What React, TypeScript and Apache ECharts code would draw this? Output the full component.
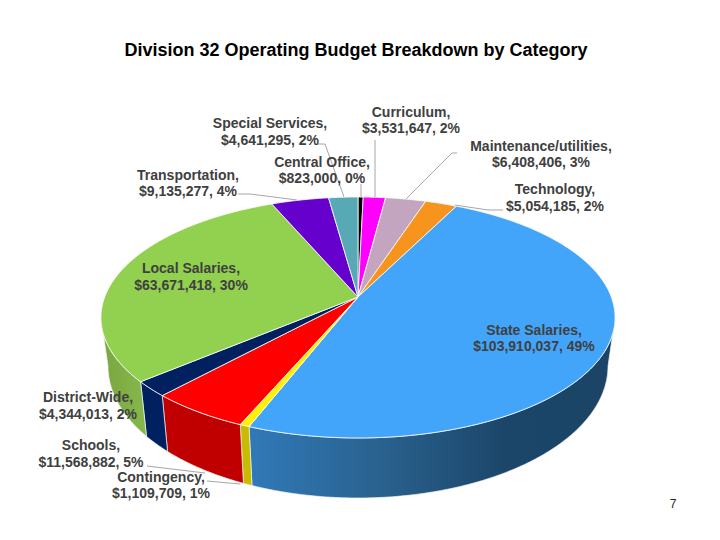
import React, { useEffect, useRef } from "react";
import * as echarts from "echarts";

const categories = ["Central Office", "Curriculum", "Maintenance/utilities", "Technology", "State Salaries", "Contingency", "Schools", "District-Wide", "Local Salaries", "Transportation", "Special Services"];
const values = [823000, 3531647, 6408406, 5054185, 103910037, 1109709, 11568882, 4344013, 63671418, 9135277, 4641295];
const topColors = ["#000000", "#ff00ff", "#c3a5c0", "#f7941d", "#42a5fa", "#fff200", "#ff0000", "#002060", "#92d050", "#6600cc", "#56a9b5"];
const wallColors = ["#000000", "#bf00bf", "#927c90", "#b96f16", "#2f75b5", "#c9bc00", "#c00000", "#002060", "#7dae45", "#4d0099", "#407f88"];

const labelLayout: [number, number][] = [
  [322, 170], [411, 120], [541, 154], [555, 197.5], [534, 338], [161, 485], [91, 453.5], [88, 405.5], [191, 276.5], [188, 183], [270, 131.5],
];
const leaderLines: number[][][] = [
  [[361, 184], [361, 198]],
  [[375, 140], [375, 197]],
  [[457, 153], [452, 153], [406, 199]],
  [[503, 210], [488, 210], [455, 205]],
  [],
  [[207, 481], [240, 484]],
  [[147, 466], [205, 473]],
  [],
  [],
  [[238, 194], [250, 194], [297, 200]],
  [[318, 144], [325, 144], [344, 197]],
];

const total = values.reduce((a, b) => a + b, 0);
const RAD = Math.PI / 180;

// Perspective view of a round disc: top face and bottom face ellipses.
const cx = 358, apexY = 297, k = 0.17, h = 117, w = 253.3;
const topE = { x: 358, y: 317.5, rx: 257, ry: 120.5 };
const botE = { x: 358, y: 366, rx: 250, ry: 132 };

function topPoint(theta: number) {
  const u = Math.sin(theta * RAD), v = -Math.cos(theta * RAD);
  const d = 1 - k * v;
  return [cx + (w * u) / d, apexY + (h * v) / d];
}
function phiOf(p: number[]) {
  return Math.atan2((p[0] - topE.x) / topE.rx, (topE.y - p[1]) / topE.ry);
}
function botPoint(phi: number) {
  return [botE.x + botE.rx * Math.sin(phi), botE.y - botE.ry * Math.cos(phi)];
}

const renderItem = (params: any) => {
  const i = params.dataIndex;
  let before = 0;
  for (let j = 0; j < i; j++) before += values[j];
  const a0 = (before / total) * 360;
  const a1 = ((before + values[i]) / total) * 360;
  const steps = Math.max(2, Math.ceil((a1 - a0) * 2));
  const arc: number[][] = [];
  const wallTop: number[][] = [];
  const wallBot: number[][] = [];
  for (let s = 0; s <= steps; s++) {
    const p = topPoint(a0 + ((a1 - a0) * s) / steps);
    arc.push(p);
    const phi = phiOf(p);
    if (Math.cos(phi) <= 0) {
      wallTop.push(p);
      wallBot.push(botPoint(phi));
    }
  }
  const children: any[] = [];
  if (wallTop.length > 1) {
    let fill: any = wallColors[i];
    if (categories[i] === "State Salaries") {
      fill = new echarts.graphic.LinearGradient(250, 0, 615, 0, [
        { offset: 0, color: "#3079b8" },
        { offset: 0.35, color: "#2a628f" },
        { offset: 0.7, color: "#1b4669" },
        { offset: 1, color: "#1b4466" },
      ], true);
    } else if (categories[i] === "Local Salaries") {
      fill = new echarts.graphic.LinearGradient(102, 0, 146, 0, [
        { offset: 0, color: "#7aa63f" },
        { offset: 1, color: "#86b84c" },
      ], true);
    }
    children.push({
      type: "polygon",
      z2: 1,
      shape: { points: wallTop.concat(wallBot.slice().reverse()) },
      style: { fill, stroke: "#f2f2f2", lineWidth: 0.7 },
    });
  }
  children.push({
    type: "polygon",
    z2: 2,
    shape: { points: [[cx, apexY], ...arc] },
    style: { fill: topColors[i], stroke: "#ffffff", lineWidth: 0.8 },
  });
  return { type: "group", children };
};

const labelFor = (i: number) =>
  `${categories[i]},\n$${values[i].toLocaleString("en-US")}, ${Math.round((values[i] / total) * 100)}%`;

export default function App() {
  const ref = useRef<HTMLDivElement>(null);
  useEffect(() => {
    document.body.style.margin = "0";
    const chart = echarts.init(ref.current!, null, { renderer: "svg" });
    const graphics: any[] = [];
    leaderLines.forEach((pts) => {
      if (pts.length) {
        graphics.push({
          type: "polyline",
          z: 50,
          shape: { points: pts },
          style: { fill: "none", stroke: "#a6a6a6", lineWidth: 1 },
        });
      }
    });
    categories.forEach((_, i) => {
      graphics.push({
        type: "text",
        z: 60,
        x: labelLayout[i][0],
        y: labelLayout[i][1],
        style: {
          text: labelFor(i),
          fontFamily: "Liberation Sans, Arial, sans-serif",
          fontSize: 14,
          fontWeight: "bold",
          fill: "#404040",
          align: "center",
          verticalAlign: "middle",
          lineHeight: 16.5,
        },
      });
    });
    graphics.push({
      type: "text",
      z: 60,
      x: 673,
      y: 504,
      style: {
        text: "7",
        fontFamily: "Liberation Sans, Arial, sans-serif",
        fontSize: 12,
        fill: "#262626",
        align: "center",
        verticalAlign: "middle",
      },
    });
    chart.setOption({
      animation: false,
      backgroundColor: "#ffffff",
      title: {
        text: "Division 32 Operating Budget Breakdown by Category",
        left: 351,
        top: 36,
        textAlign: "center",
        textStyle: { fontFamily: "Liberation Sans, Arial, sans-serif", fontSize: 18, fontWeight: "bold", color: "#000000" },
      },
      series: [
        {
          type: "custom",
          coordinateSystem: "none",
          renderItem,
          clip: false,
          data: values.map((v, i) => ({ name: categories[i], value: v })),
        },
      ],
      graphic: graphics,
    });
    return () => chart.dispose();
  }, []);
  return <div ref={ref} style={{ width: 720, height: 540 }} />;
}
